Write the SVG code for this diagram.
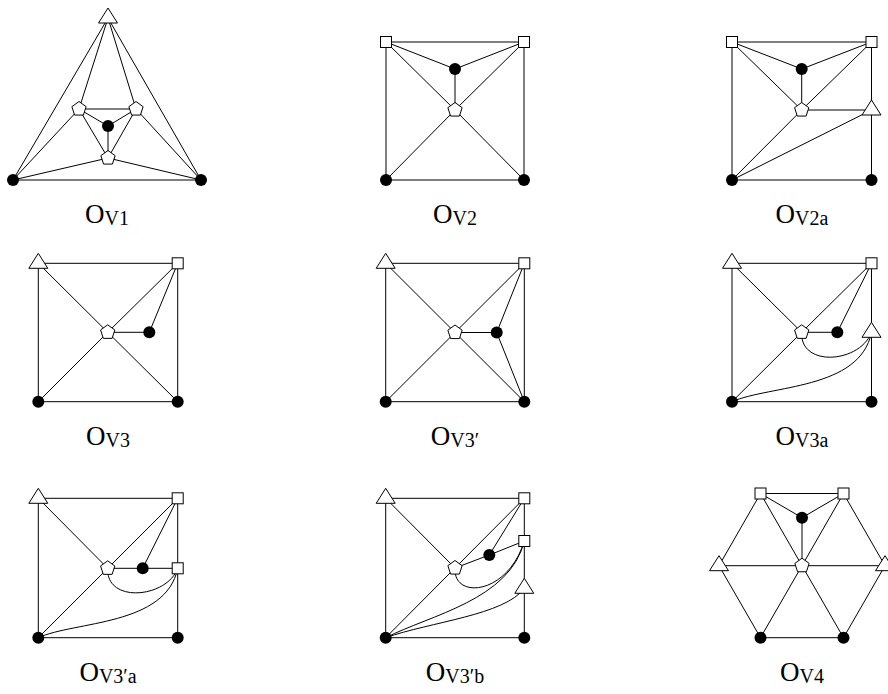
<svg xmlns="http://www.w3.org/2000/svg" xmlns:xlink="http://www.w3.org/1999/xlink" width="888" height="694" viewBox="0 0 888 694">
<style>
.e{stroke:#000;stroke-width:1;fill:none}
.w{fill:#fff;stroke:#000;stroke-width:1}
.lbl{font-family:"Liberation Serif","DejaVu Serif",serif;font-size:27px;fill:#000}
.sub{font-size:20px}
</style>
<defs>
<circle id="dot" r="6" fill="#000"/>
<rect id="sq" class="w" x="-5.5" y="-5.5" width="11" height="11"/>
<polygon id="pent" class="w" points="0,-7.5 7.13,-2.32 4.41,6.07 -4.41,6.07 -7.13,-2.32"/>
<polygon id="tri" class="w" points="0,-10 9.5,5 -9.5,5"/>
</defs>
<rect width="888" height="694" fill="#fff"/>

<!-- Panel 1: O_V1 -->
<g id="panel-V1">
<g id="edges-V1" class="e">
<line x1="108" y1="18" x2="13" y2="180"/>
<line x1="108" y1="18" x2="201" y2="180"/>
<line x1="108" y1="18" x2="79" y2="109"/>
<line x1="108" y1="18" x2="136" y2="109"/>
<line x1="13" y1="180" x2="201" y2="180"/>
<line x1="13" y1="180" x2="79" y2="109"/>
<line x1="13" y1="180" x2="108" y2="158"/>
<line x1="201" y1="180" x2="136" y2="109"/>
<line x1="201" y1="180" x2="108" y2="158"/>
<line x1="79" y1="109" x2="136" y2="109"/>
<line x1="79" y1="109" x2="108" y2="158"/>
<line x1="136" y1="109" x2="108" y2="158"/>
<line x1="108" y1="126" x2="79" y2="109"/>
<line x1="108" y1="126" x2="136" y2="109"/>
<line x1="108" y1="126" x2="108" y2="158"/>
</g>
<g id="V1-apex"><use href="#tri" x="108" y="18"/></g>
<g id="V1-bl"><use href="#dot" x="13" y="180"/></g>
<g id="V1-br"><use href="#dot" x="201" y="180"/></g>
<g id="V1-lp"><use href="#pent" x="79" y="109"/></g>
<g id="V1-rp"><use href="#pent" x="136" y="109"/></g>
<g id="V1-bp"><use href="#pent" x="108" y="158"/></g>
<g id="V1-c"><use href="#dot" x="108" y="126"/></g>
<text class="lbl" x="107" y="223" text-anchor="middle">O<tspan class="sub" dy="2">V1</tspan></text>
</g>

<!-- Panel 2: O_V2 -->
<g id="panel-V2">
<g id="edges-V2" class="e">
<line x1="386" y1="42" x2="524" y2="42"/>
<line x1="386" y1="42" x2="386" y2="180"/>
<line x1="524" y1="42" x2="524" y2="180"/>
<line x1="386" y1="180" x2="524" y2="180"/>
<line x1="386" y1="42" x2="455" y2="69"/>
<line x1="524" y1="42" x2="455" y2="69"/>
<line x1="455" y1="69" x2="455" y2="110"/>
<line x1="386" y1="42" x2="455" y2="110"/>
<line x1="524" y1="42" x2="455" y2="110"/>
<line x1="386" y1="180" x2="455" y2="110"/>
<line x1="524" y1="180" x2="455" y2="110"/>
</g>
<g id="V2-tl"><use href="#sq" x="386" y="42"/></g>
<g id="V2-tr"><use href="#sq" x="524" y="42"/></g>
<g id="V2-d"><use href="#dot" x="455" y="69"/></g>
<g id="V2-p"><use href="#pent" x="455" y="110"/></g>
<g id="V2-bl"><use href="#dot" x="386" y="180"/></g>
<g id="V2-br"><use href="#dot" x="524" y="180"/></g>
<text class="lbl" x="455" y="223" text-anchor="middle">O<tspan class="sub" dy="2">V2</tspan></text>
</g>

<!-- Panel 3: O_V2a -->
<g id="panel-V2a">
<g id="edges-V2a" class="e">
<line x1="732" y1="42" x2="871.5" y2="42"/>
<line x1="732" y1="42" x2="732" y2="180"/>
<line x1="871.5" y1="42" x2="871.5" y2="110"/>
<line x1="871.5" y1="110" x2="871.5" y2="180"/>
<line x1="732" y1="180" x2="871.5" y2="180"/>
<line x1="732" y1="42" x2="801.7" y2="69"/>
<line x1="871.5" y1="42" x2="801.7" y2="69"/>
<line x1="801.7" y1="69" x2="801.7" y2="110"/>
<line x1="732" y1="42" x2="801.7" y2="110"/>
<line x1="871.5" y1="42" x2="801.7" y2="110"/>
<line x1="801.7" y1="110" x2="871.5" y2="110"/>
<line x1="732" y1="180" x2="801.7" y2="110"/>
<line x1="732" y1="180" x2="871.5" y2="110"/>
</g>
<g id="V2a-tl"><use href="#sq" x="732" y="42"/></g>
<g id="V2a-tr"><use href="#sq" x="871.5" y="42"/></g>
<g id="V2a-d"><use href="#dot" x="801.7" y="69"/></g>
<g id="V2a-p"><use href="#pent" x="801.7" y="110"/></g>
<g id="V2a-rt"><use href="#tri" x="871.5" y="110"/></g>
<g id="V2a-bl"><use href="#dot" x="732" y="180"/></g>
<g id="V2a-br"><use href="#dot" x="871.5" y="180"/></g>
<text class="lbl" x="802" y="223" text-anchor="middle">O<tspan class="sub" dy="2">V2a</tspan></text>
</g>

<!-- Panel 4: O_V3 -->
<g id="panel-V3">
<g id="edges-V3" class="e">
<line x1="38.3" y1="263.3" x2="177.7" y2="263.3"/>
<line x1="38.3" y1="263.3" x2="38.3" y2="401.7"/>
<line x1="177.7" y1="263.3" x2="177.7" y2="401.7"/>
<line x1="38.3" y1="401.7" x2="177.7" y2="401.7"/>
<line x1="38.3" y1="263.3" x2="107.7" y2="332.3"/>
<line x1="177.7" y1="263.3" x2="107.7" y2="332.3"/>
<line x1="177.7" y1="263.3" x2="149.3" y2="332.3"/>
<line x1="107.7" y1="332.3" x2="149.3" y2="332.3"/>
<line x1="38.3" y1="401.7" x2="107.7" y2="332.3"/>
<line x1="177.7" y1="401.7" x2="107.7" y2="332.3"/>
</g>
<g id="V3-t"><use href="#tri" x="38.3" y="263.3"/></g>
<g id="V3-tr"><use href="#sq" x="177.7" y="263.3"/></g>
<g id="V3-p"><use href="#pent" x="107.7" y="332.3"/></g>
<g id="V3-d"><use href="#dot" x="149.3" y="332.3"/></g>
<g id="V3-bl"><use href="#dot" x="38.3" y="401.7"/></g>
<g id="V3-br"><use href="#dot" x="177.7" y="401.7"/></g>
<text class="lbl" x="108" y="444.5" text-anchor="middle">O<tspan class="sub" dy="2">V3</tspan></text>
</g>

<!-- Panel 5: O_V3' -->
<g id="panel-V3p">
<g id="edges-V3p" class="e">
<line x1="385.7" y1="263.3" x2="524.3" y2="263.3"/>
<line x1="385.7" y1="263.3" x2="385.7" y2="401.7"/>
<line x1="524.3" y1="263.3" x2="524.3" y2="401.7"/>
<line x1="385.7" y1="401.7" x2="524.3" y2="401.7"/>
<line x1="385.7" y1="263.3" x2="455" y2="332.5"/>
<line x1="524.3" y1="263.3" x2="455" y2="332.5"/>
<line x1="524.3" y1="263.3" x2="496.7" y2="332.5"/>
<line x1="455" y1="332.5" x2="496.7" y2="332.5"/>
<line x1="385.7" y1="401.7" x2="455" y2="332.5"/>
<line x1="524.3" y1="401.7" x2="455" y2="332.5"/>
<line x1="496.7" y1="332.5" x2="524.3" y2="401.7"/>
</g>
<g id="V3p-t"><use href="#tri" x="385.7" y="263.3"/></g>
<g id="V3p-tr"><use href="#sq" x="524.3" y="263.3"/></g>
<g id="V3p-p"><use href="#pent" x="455" y="332.5"/></g>
<g id="V3p-d"><use href="#dot" x="496.7" y="332.5"/></g>
<g id="V3p-bl"><use href="#dot" x="385.7" y="401.7"/></g>
<g id="V3p-br"><use href="#dot" x="524.3" y="401.7"/></g>
<text class="lbl" x="455" y="444.5" text-anchor="middle">O<tspan class="sub" dy="2">V3′</tspan></text>
</g>

<!-- Panel 6: O_V3a -->
<g id="panel-V3a">
<g id="edges-V3a" class="e">
<line x1="732" y1="263.3" x2="871.5" y2="263.3"/>
<line x1="732" y1="263.3" x2="732" y2="401.7"/>
<line x1="871.5" y1="263.3" x2="871.5" y2="332.3"/>
<line x1="871.5" y1="332.3" x2="871.5" y2="401.7"/>
<line x1="732" y1="401.7" x2="871.5" y2="401.7"/>
<line x1="732" y1="263.3" x2="801.7" y2="332.3"/>
<line x1="871.5" y1="263.3" x2="801.7" y2="332.3"/>
<line x1="732" y1="401.7" x2="801.7" y2="332.3"/>
<line x1="871.5" y1="263.3" x2="837.3" y2="332.3"/>
<line x1="801.7" y1="332.3" x2="837.3" y2="332.3"/>
<path d="M801.7,332.3 C800,368 860,363 871.5,332.3"/>
<path d="M732,401.7 C770,385 860,390 871.5,332.3"/>
</g>
<g id="V3a-t"><use href="#tri" x="732" y="263.3"/></g>
<g id="V3a-tr"><use href="#sq" x="871.5" y="263.3"/></g>
<g id="V3a-p"><use href="#pent" x="801.7" y="332.3"/></g>
<g id="V3a-d"><use href="#dot" x="837.3" y="332.3"/></g>
<g id="V3a-rt"><use href="#tri" x="871.5" y="332.3"/></g>
<g id="V3a-bl"><use href="#dot" x="732" y="401.7"/></g>
<g id="V3a-br"><use href="#dot" x="871.5" y="401.7"/></g>
<text class="lbl" x="802" y="444.5" text-anchor="middle">O<tspan class="sub" dy="2">V3a</tspan></text>
</g>

<!-- Panel 7: O_V3'a -->
<g id="panel-V3pa">
<g id="edges-V3pa" class="e">
<line x1="38.3" y1="498.3" x2="177.7" y2="498.3"/>
<line x1="38.3" y1="498.3" x2="38.3" y2="637.7"/>
<line x1="177.7" y1="498.3" x2="177.7" y2="568.3"/>
<line x1="177.7" y1="568.3" x2="177.7" y2="637.7"/>
<line x1="38.3" y1="637.7" x2="177.7" y2="637.7"/>
<line x1="38.3" y1="498.3" x2="107.7" y2="568.3"/>
<line x1="177.7" y1="498.3" x2="107.7" y2="568.3"/>
<line x1="38.3" y1="637.7" x2="107.7" y2="568.3"/>
<line x1="177.7" y1="498.3" x2="142.7" y2="568.3"/>
<line x1="107.7" y1="568.3" x2="177.7" y2="568.3"/>
<path d="M107.7,568.3 C106,604 167,598 177.7,568.3"/>
<path d="M38.3,637.7 C75,621 166,626 177.7,568.3"/>
</g>
<g id="V3pa-t"><use href="#tri" x="38.3" y="498.3"/></g>
<g id="V3pa-tr"><use href="#sq" x="177.7" y="498.3"/></g>
<g id="V3pa-p"><use href="#pent" x="107.7" y="568.3"/></g>
<g id="V3pa-d"><use href="#dot" x="142.7" y="568.3"/></g>
<g id="V3pa-rs"><use href="#sq" x="177.7" y="568.3"/></g>
<g id="V3pa-bl"><use href="#dot" x="38.3" y="637.7"/></g>
<g id="V3pa-br"><use href="#dot" x="177.7" y="637.7"/></g>
<text class="lbl" x="108" y="680.5" text-anchor="middle">O<tspan class="sub" dy="2">V3′a</tspan></text>
</g>

<!-- Panel 8: O_V3'b -->
<g id="panel-V3pb">
<g id="edges-V3pb" class="e">
<line x1="385.7" y1="498.3" x2="524.3" y2="498.3"/>
<line x1="385.7" y1="498.3" x2="385.7" y2="637.7"/>
<line x1="524.3" y1="498.3" x2="524.3" y2="637.7"/>
<line x1="385.7" y1="637.7" x2="524.3" y2="637.7"/>
<line x1="385.7" y1="498.3" x2="455" y2="568"/>
<line x1="524.3" y1="498.3" x2="385.7" y2="637.7"/>
<line x1="524.3" y1="498.3" x2="489.3" y2="555"/>
<line x1="455" y1="568" x2="489.3" y2="555"/>
<line x1="489.3" y1="555" x2="524.3" y2="541"/>
<path d="M455,568 C453,600 508,595 524.3,541"/>
<path d="M385.7,637.7 C430,615 510,600 524.3,541"/>
<path d="M385.7,637.7 C430,622 505,615 524.3,588.3"/>
</g>
<g id="V3pb-t"><use href="#tri" x="385.7" y="498.3"/></g>
<g id="V3pb-tr"><use href="#sq" x="524.3" y="498.3"/></g>
<g id="V3pb-rs"><use href="#sq" x="524.3" y="541"/></g>
<g id="V3pb-d"><use href="#dot" x="489.3" y="555"/></g>
<g id="V3pb-p"><use href="#pent" x="455" y="568"/></g>
<g id="V3pb-rt"><use href="#tri" x="524.3" y="588.3"/></g>
<g id="V3pb-bl"><use href="#dot" x="385.7" y="637.7"/></g>
<g id="V3pb-br"><use href="#dot" x="524.3" y="637.7"/></g>
<text class="lbl" x="455" y="680.5" text-anchor="middle">O<tspan class="sub" dy="2">V3′b</tspan></text>
</g>

<!-- Panel 9: O_V4 -->
<g id="panel-V4">
<g id="edges-V4" class="e">
<line x1="760.5" y1="493.5" x2="843.5" y2="493.5"/>
<line x1="760.5" y1="493.5" x2="802" y2="517.7"/>
<line x1="843.5" y1="493.5" x2="802" y2="517.7"/>
<line x1="802" y1="517.7" x2="802" y2="565.7"/>
<line x1="760.5" y1="493.5" x2="719" y2="565.7"/>
<line x1="760.5" y1="493.5" x2="802" y2="565.7"/>
<line x1="843.5" y1="493.5" x2="802" y2="565.7"/>
<line x1="843.5" y1="493.5" x2="885" y2="565.7"/>
<line x1="719" y1="565.7" x2="885" y2="565.7"/>
<line x1="719" y1="565.7" x2="760.5" y2="637.7"/>
<line x1="760.5" y1="637.7" x2="802" y2="565.7"/>
<line x1="843.5" y1="637.7" x2="802" y2="565.7"/>
<line x1="885" y1="565.7" x2="843.5" y2="637.7"/>
<line x1="760.5" y1="637.7" x2="843.5" y2="637.7"/>
</g>
<g id="V4-tl"><use href="#sq" x="760.5" y="493.5"/></g>
<g id="V4-tr"><use href="#sq" x="843.5" y="493.5"/></g>
<g id="V4-d"><use href="#dot" x="802" y="517.7"/></g>
<g id="V4-p"><use href="#pent" x="802" y="565.7"/></g>
<g id="V4-lt"><use href="#tri" x="719" y="565.7"/></g>
<g id="V4-rt"><use href="#tri" x="885" y="565.7"/></g>
<g id="V4-bl"><use href="#dot" x="760.5" y="637.7"/></g>
<g id="V4-br"><use href="#dot" x="843.5" y="637.7"/></g>
<text class="lbl" x="802" y="680.5" text-anchor="middle">O<tspan class="sub" dy="2">V4</tspan></text>
</g>
</svg>
